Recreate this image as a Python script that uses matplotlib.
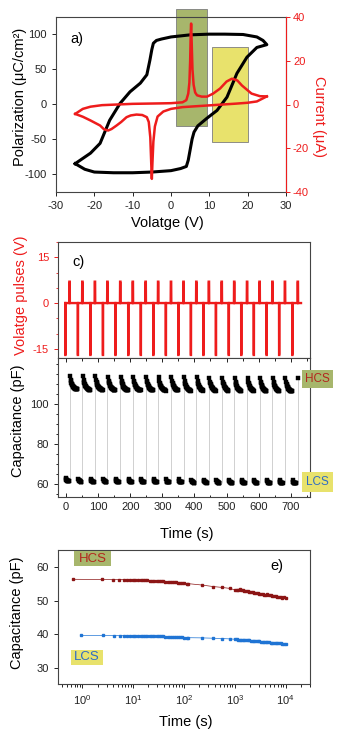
import matplotlib
matplotlib.use('Agg')
import matplotlib.pyplot as plt
import numpy as np
from matplotlib.patches import Rectangle
from matplotlib.ticker import MultipleLocator, LogLocator, NullFormatter, FixedLocator

plt.rcParams['font.family'] = ['Liberation Sans', 'DejaVu Sans']
plt.rcParams['mathtext.fontset'] = 'custom'
plt.rcParams['mathtext.rm'] = 'Liberation Sans'
plt.rcParams['mathtext.it'] = 'Liberation Sans:italic'
plt.rcParams['axes.unicode_minus'] = False
plt.rcParams['axes.linewidth'] = 0.8

# ---------------- Panel a data ----------------
loop_v = [-25, -22.5, -20, -15, -10, -5, 0, 2.5, 4.0, 4.5, 5.0, 5.5, 6.0, 7.0, 9.4, 12, 14.6, 17.2, 19.8, 22.4, 25,
          24, 22.4, 18.8, 14, 10, 5, 0, -2.5, -3.8, -4.6, -5.0, -5.5, -6.3, -8, -10.7, -13.3, -16, -18.5, -21, -25]
loop_p = [-85, -93, -97, -98, -98, -97, -95, -92, -89, -80, -65, -50, -40, -31, -20, -9, 10, 44, 67, 81, 85,
          91, 96, 99.5, 100, 100, 99, 96, 93, 91, 87, 78, 63, 42, 30, 17.6, 1, -23, -56, -70, -85]

fwd_v = [-25, -23, -21, -18, -10, -3, 0, 3.0, 4.0, 4.5, 4.8, 5.0, 5.15, 5.25, 5.4, 5.6, 5.9, 6.3, 6.8, 8, 9.4,
         11, 12.8, 14.5, 15.9, 17.3, 18.5, 21, 23.2, 25]
fwd_i = [-4.3, -2, -1, -0.3, 0.3, 0.5, 0.6, 1.0, 2, 5, 10, 20, 33, 37, 28, 16, 9, 5.5, 4.2, 3.6, 3.6,
         5, 7.3, 10.5, 11.8, 11, 8.7, 5, 3.8, 3.7]

bwd_v = [25, 22.4, 20, 17, 10, 3, 0, -2, -3.5, -4.2, -4.6, -4.85, -5.0, -5.15, -5.4, -5.8, -6.3, -7.5, -9,
         -10.5, -11.6, -13, -14.2, -15.5, -16.4, -17.5, -18.5, -21, -23, -25]
bwd_i = [3.7, 1.4, 0.8, 0.4, -0.4, -1.2, -2.0, -3.2, -5.5, -10, -17, -27, -34, -27, -15, -8, -5.8, -4.8, -4.6,
         -5.0, -5.8, -8.0, -9.6, -11.2, -11.9, -11.3, -9.6, -7.3, -5.6, -4.3]

green_v = (1.3, 9.3)
green_p = (-31, 136)
yellow_v = (10.6, 20.2)
yellow_p = (-54, 82)

# ---------------- Panel c data ----------------
neg_t = [-2, 37, 76, 115, 154, 194, 233, 272, 311, 350, 389, 428, 467, 507, 546, 585, 625, 664, 705]
pos_t = [11, 51, 90, 129, 169, 208, 248, 287, 327, 366, 406, 445, 485, 524, 564, 603, 643, 682, 722]
neg_amp = -17
pos_amp = 7
trace_end = 732

lcs_level = [63.0, 62.7, 62.6, 62.6, 62.5, 62.5, 62.4, 62.4, 62.3, 62.3, 62.2, 62.2, 62.1, 62.1, 62.0, 62.0, 61.9, 61.9, 61.8]
hcs_level = [114.0, 113.8, 113.8, 113.6, 113.6, 113.5, 113.5, 113.4, 113.4, 113.3, 113.3, 113.2, 113.2, 113.1, 113.1, 113.0, 113.0, 112.9, 112.9]
lcs_dt = [1, 2, 3, 4, 5, 6, 7, 8, 9, 10, 11]
lcs_drop = [0, 0.6, 0.9, 1.1, 1.2, 1.3, 1.35, 1.4, 1.45, 1.5, 1.5]
hcs_dt = [1.5, 4, 5, 6, 7, 8, 9, 10, 11, 12, 13, 14, 15, 16, 17, 18, 19, 20, 21, 22, 23, 24]
hcs_drop = [0, 2.0, 2.7, 3.3, 3.8, 4.2, 4.6, 4.9, 5.2, 5.4, 5.6, 5.8, 6.0, 6.1, 6.2, 6.3, 6.4, 6.5, 6.55, 6.6, 6.65, 6.7]

# ---------------- Panel e data ----------------
hcs_time = [0.65, 2.4, 4.0, 5.3, 6.5, 7.6, 8.7, 9.8,
            11, 12.5, 14, 15.5, 17, 19, 21, 23.5, 26, 29,
            32, 35, 39, 43, 48, 53, 58, 64, 70, 77,
            85, 93, 102, 112, 122,
            224, 372, 550, 794,
            1000, 1080, 1160, 1240, 1320, 1420, 1530, 1650, 1780, 1920,
            2070, 2230, 2400, 2600, 2800, 3020, 3260, 3520, 3800, 4100,
            4400, 4750, 5100, 5500, 5950, 6400, 6900, 7450, 8000, 8650,
            9300, 10000]
hcs_cap = [56.3, 56.25, 56.2, 56.2, 56.2, 56.2, 56.15, 56.15,
           56.1, 56.1, 56.05, 56.0, 56.0, 55.95, 55.9, 55.9, 55.85, 55.8,
           55.75, 55.7, 55.65, 55.6, 55.55, 55.5, 55.45, 55.4, 55.35, 55.3,
           55.25, 55.2, 55.1, 55.05, 55.0,
           54.6, 54.15, 53.9, 53.6,
           53.15, 53.1, 53.05, 53.4, 53.2, 53.0, 52.9, 52.8, 52.7, 52.6,
           52.5, 52.4, 52.3, 52.2, 52.1, 52.0, 51.9, 51.8, 51.7, 51.6,
           51.95, 51.7, 51.55, 51.4, 51.3, 51.2, 51.1, 51.0, 51.0, 50.8,
           51.1, 50.7]
lcs_time = [0.93, 2.6, 4.1, 5.4, 6.6, 7.7, 8.8, 9.9,
            11, 12.5, 14, 15.5, 17, 19, 21, 23.5, 26, 29,
            32, 35, 39, 43, 48, 53, 58, 64, 70, 77,
            85, 93, 102, 112, 122,
            224, 372, 550, 794,
            1000, 1080, 1160, 1240, 1320, 1420, 1530, 1650, 1780, 1920,
            2070, 2230, 2400, 2600, 2800, 3020, 3260, 3520, 3800, 4100,
            4400, 4750, 5100, 5500, 5950, 6400, 6900, 7450, 8000, 8650,
            9300, 10000]
lcs_cap = [39.65, 39.65, 39.6, 39.6, 39.6, 39.6, 39.6, 39.6,
           39.6, 39.6, 39.55, 39.55, 39.5, 39.5, 39.5, 39.45, 39.45, 39.4,
           39.4, 39.35, 39.35, 39.3, 39.3, 39.25, 39.2, 39.2, 39.15, 39.1,
           39.1, 39.05, 39.0, 39.0, 38.95,
           38.9, 38.8, 38.7, 38.6,
           38.5, 38.45, 38.4, 38.4, 38.35, 38.3, 38.3, 38.25, 38.2, 38.15,
           38.1, 38.05, 38.0, 37.95, 37.9, 37.85, 37.8, 37.75, 37.7, 37.65,
           37.6, 37.55, 37.5, 37.45, 37.4, 37.4, 37.35, 37.3, 37.25, 37.2,
           37.2, 37.15]

# ---------------- styles ----------------
RED = '#ee1c1c'
HCS_TXT = '#b3261e'
LCS_TXT = '#2e6cc4'
GREEN = '#a7b66c'
YELLOW = '#e8e26c'
SPINE = '#444444'
TICKC = '#222222'
LABEL_FS = 10.5
TICK_FS = 8

W, H = 337, 729
fig = plt.figure(figsize=(W / 100, H / 100), dpi=100)


def px_axes(l, r, t, b):
    return fig.add_axes([l / W, 1 - b / H, (r - l) / W, (b - t) / H])


def style(ax):
    for s in ax.spines.values():
        s.set_color(SPINE)
        s.set_linewidth(0.8)
    ax.tick_params(labelsize=TICK_FS, colors=TICKC, length=3, width=0.7)
    ax.tick_params(which='minor', length=1.8, width=0.6)


def label_box(x0, y0, x1, y1, text, fc, tc, fs):
    fig.patches.append(Rectangle((x0 / W, 1 - y1 / H), (x1 - x0) / W, (y1 - y0) / H,
                                 transform=fig.transFigure, facecolor=fc, edgecolor='none', zorder=5))
    fig.text((x0 + x1) / 2 / W, 1 - (y0 + y1) / 2 / H, text, color=tc, fontsize=fs,
             ha='center', va='center', zorder=6)


# ---------------- Panel a ----------------
axa = px_axes(56, 286, 17, 192)
style(axa)
axa.add_patch(Rectangle((green_v[0], green_p[0]), green_v[1] - green_v[0], green_p[1] - green_p[0],
                        facecolor=GREEN, edgecolor='#7d7d7d', lw=0.6, zorder=1, clip_on=False))
axa.add_patch(Rectangle((yellow_v[0], yellow_p[0]), yellow_v[1] - yellow_v[0], yellow_p[1] - yellow_p[0],
                        facecolor=YELLOW, edgecolor='#7d7d7d', lw=0.6, zorder=1))
axa.plot(loop_v, loop_p, color='black', lw=2.2, zorder=3, solid_joinstyle='round')
axa.set_xlim(-30, 30)
axa.set_ylim(-125.5, 124.5)
axa.set_xticks([-30, -20, -10, 0, 10, 20, 30])
axa.set_yticks([-100, -50, 0, 50, 100])
axa.set_xlabel('Volatge (V)', fontsize=LABEL_FS)
axa.set_ylabel('Polarization (μC/cm²)', fontsize=LABEL_FS)
axa.xaxis.set_label_coords(0.485, -0.14)
axa.yaxis.set_label_coords(-0.125, 0.546)
axa.text(0.09, 0.875, 'a)', transform=axa.transAxes, fontsize=LABEL_FS, ha='center', va='center')

axb = axa.twinx()
axb.plot(fwd_v, fwd_i, color=RED, lw=1.8, zorder=4)
axb.plot(bwd_v, bwd_i, color=RED, lw=1.8, zorder=4)
axb.set_ylim(-40, 40)
axb.set_yticks([-40, -20, 0, 20, 40])
for s in axb.spines.values():
    s.set_visible(False)
axb.spines['right'].set_visible(True)
axb.spines['right'].set_color(RED)
axb.tick_params(axis='y', colors=RED, labelsize=TICK_FS, length=3, width=0.7, pad=2)
axb.set_ylabel('Current (μA)', color=RED, fontsize=LABEL_FS, rotation=270)
axb.yaxis.set_label_coords(1.175, 0.43)

# ---------------- Panel c (top: pulses) ----------------
axc1 = px_axes(58, 310, 242, 358)
style(axc1)
events = sorted([(t, neg_amp) for t in neg_t] + [(t, pos_amp) for t in pos_t])
wt, wv = [], []
for t, a in events:
    w = 0.5 if a < 0 else 1.0
    wt += [t - w, t - w * 0.6, t + w * 0.6, t + w]
    wv += [0, a, a, 0]
wt.append(trace_end)
wv.append(0)
axc1.plot(wt, wv, color=RED, lw=1.7, solid_joinstyle='miter')
axc1.set_xlim(-25, 760)
axc1.set_ylim(-18, 20)
axc1.set_yticks([-15, 0, 15])
axc1.yaxis.set_minor_locator(MultipleLocator(5))
axc1.tick_params(axis='y', which='both', colors=RED)
axc1.tick_params(axis='x', which='both', bottom=False, labelbottom=False)
axc1.set_ylabel('Volatge pulses (V)', color=RED, fontsize=LABEL_FS)
axc1.yaxis.set_label_coords(-0.12, 0.54)
axc1.text(0.08, 0.83, 'c)', transform=axc1.transAxes, fontsize=LABEL_FS, ha='center', va='center')

# ---------------- Panel c (bottom: capacitance) ----------------
axc2 = px_axes(58, 310, 358, 497)
style(axc2)
n = len(pos_t)
ct, cc = [], []
vx, vlo, vhi = [], [], []
for k in range(n):
    last_l = None
    for dt, d in zip(lcs_dt, lcs_drop):
        t = neg_t[k] + dt
        if t < pos_t[k] - 0.5:
            ct.append(t)
            cc.append(lcs_level[k] - d)
            last_l = lcs_level[k] - d
    nxt = neg_t[k + 1] if k + 1 < n else trace_end - 6
    for dt, d in zip(hcs_dt, hcs_drop):
        t = pos_t[k] + dt
        if t < nxt - 0.5:
            ct.append(t)
            cc.append(hcs_level[k] - d)
    vx.append(pos_t[k])
    vlo.append(last_l)
    vhi.append(hcs_level[k])
axc2.vlines(vx, vlo, vhi, colors='#c9c9c9', lw=0.6, zorder=1)
axc2.plot(ct, cc, ls='none', marker='s', ms=2.3, mec='black', mfc='black', mew=0.3, zorder=3)
axc2.set_xlim(-25, 760)
axc2.set_ylim(53.5, 123)
axc2.set_xticks([0, 100, 200, 300, 400, 500, 600, 700])
axc2.xaxis.set_minor_locator(MultipleLocator(50))
axc2.set_yticks([60, 80, 100])
axc2.yaxis.set_minor_locator(MultipleLocator(5))
axc2.tick_params(axis='x', which='both', direction='in', top=True)
axc2.set_xlabel('Time (s)', fontsize=LABEL_FS)
axc2.set_ylabel('Capacitance (pF)', fontsize=LABEL_FS)
axc2.xaxis.set_label_coords(0.51, -0.215)
axc2.yaxis.set_label_coords(-0.13, 0.547)

label_box(302, 370, 333, 388, 'HCS', GREEN, HCS_TXT, 8.5)
label_box(302, 472, 333, 492, 'LCS', YELLOW, LCS_TXT, 8.5)

# ---------------- Panel e ----------------
axe = px_axes(58, 310, 550, 684)
style(axe)
axe.plot(hcs_time, hcs_cap, color='#8c1515', lw=0.5, marker='s', ms=1.9, mec='#8c1515', mfc='#8c1515')
axe.plot(lcs_time, lcs_cap, color='#1f74d4', lw=0.5, marker='s', ms=1.9, mec='#1f74d4', mfc='#1f74d4')
axe.set_xscale('log')
axe.set_xlim(10 ** -0.48, 10 ** 4.48)
axe.set_ylim(25.2, 65)
axe.set_yticks([30, 40, 50, 60])
axe.xaxis.set_major_locator(FixedLocator([1, 10, 100, 1000, 10000]))
axe.xaxis.set_minor_locator(LogLocator(base=10, subs=range(2, 10), numticks=20))
axe.xaxis.set_minor_formatter(NullFormatter())
axe.set_xlabel('Time (s)', fontsize=LABEL_FS)
axe.set_ylabel('Capacitance (pF)', fontsize=LABEL_FS)
axe.xaxis.set_label_coords(0.507, -0.23)
axe.yaxis.set_label_coords(-0.133, 0.53)
axe.text(0.87, 0.88, 'e)', transform=axe.transAxes, fontsize=LABEL_FS, ha='center', va='center')

label_box(74, 551, 111, 566, 'HCS', GREEN, HCS_TXT, 9.5)
label_box(71, 650, 103, 665, 'LCS', YELLOW, LCS_TXT, 9.5)

fig.savefig('out.png', dpi=100, facecolor='white')
